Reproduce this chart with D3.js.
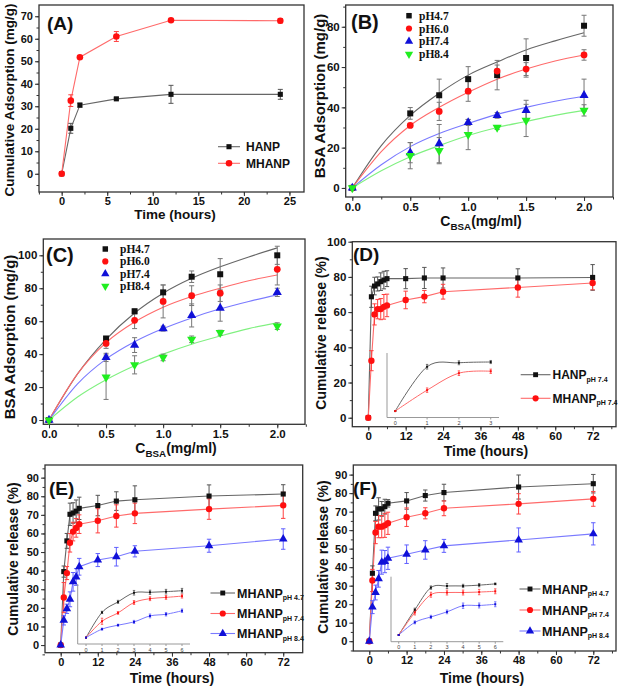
<!DOCTYPE html>
<html><head><meta charset="utf-8">
<script src="https://cdn.jsdelivr.net/npm/d3@7"></script>
<style>
body{margin:0;background:#fff}
svg text{font-family:"Liberation Sans",Arial,sans-serif;font-weight:bold;fill:#111}
svg text.serif{font-family:"Liberation Serif","Times New Roman",serif}
svg text.thin{font-weight:normal;fill:#444}
</style>
</head><body>
<svg id="c" width="620" height="688"></svg>
<script>
// ---------------- DATA ----------------
// Panel A
const timeA = [0, 1, 2, 6, 12, 24];
const hanpA = [0, 20.2, 30.5, 33.3, 35.3, 35.3];
const hanpAErr = [0, 2.2, 0.9, 0.5, 4, 2.2];
const mhanpA = [0, 32.5, 51.8, 61, 68.2, 68];
const mhanpAErr = [0, 2.6, 0.6, 2.2, 0.5, 1];
const legendA = ["HANP", "MHANP"];

// Panels B, C (adsorption isotherms)
const concBSA = [0, 0.5, 0.75, 1.0, 1.25, 1.5, 2.0];
const fitConc = [0, 0.25, 0.5, 0.75, 1.0, 1.25, 1.5, 1.75, 2.0];
const phLabels = ["pH4.7", "pH6.0", "pH7.4", "pH8.4"];

const b47 = [0, 37, 46, 54, 56, 64.5, 80.5];
const b47Err = [0, 2.9, 8, 6.2, 7.3, 9.5, 5.2];
const b60 = [0, 31, 38, 48, 58, 59, 66];
const b60Err = [0, 1, 4.5, 5, 3, 3.2, 2.6];
const b74 = [0, 17.5, 22, 32.5, 36, 38.5, 46];
const b74Err = [0, 5, 9.5, 1.5, 1.4, 5, 8];
const b84 = [0, 16, 18.5, 26.5, 30, 33.5, 38.5];
const b84Err = [0, 6.5, 6.5, 7.5, 1, 8, 2.8];
const b47Fit = [0, 21, 36, 47, 56, 62.5, 68.5, 73, 77];
const b60Fit = [0, 18, 31, 40, 47.5, 54, 59, 63, 66];
const b74Fit = [0, 11.5, 20.5, 27, 32, 36.5, 40, 43, 45.5];
const b84Fit = [0, 8.5, 15.5, 21, 26, 30, 33, 36, 38.5];

const c47 = [0, 49.5, 66, 77.5, 87, 88.5, 100];
const c47Err = [0, 1, 1.5, 4.5, 3.5, 9.5, 5.5];
const c60 = [0, 46.5, 60.5, 72, 75.5, 77, 91.5];
const c60Err = [0, 3, 5, 10, 6, 5, 9.5];
const c74 = [0, 38, 45.5, 55.5, 63.5, 68, 77.5];
const c74Err = [0, 2.5, 4.5, 1.5, 7, 8, 2.5];
const c84 = [0, 26, 33.5, 38, 49, 53, 57];
const c84Err = [0, 13.5, 5.5, 2, 2, 1.5, 2];
const c47Fit = [0, 28, 49, 65, 77, 86, 93, 99, 104.5];
const c60Fit = [0, 28, 47, 59.5, 68.5, 75, 80, 84.5, 88];
const c74Fit = [0, 22, 37, 47.5, 55.5, 62, 67.5, 72, 76];
const c84Fit = [0, 14, 24.5, 33, 40, 46, 51, 55.5, 59];

// Panels D, E, F (release)
const relTime = [0, 1, 2, 3, 4, 5, 6, 12, 18, 24, 48, 72];
const hanpD = [0, 68.7, 74.8, 76, 77.3, 78.2, 79, 79, 79.4, 79.4, 79.4, 79.7];
const hanpDErr = [0, 6, 5, 4, 5, 5, 4.5, 5.7, 6, 5.7, 5.2, 7.3];
const mhanpD = [0, 32.4, 58.7, 61.7, 61.7, 63, 63.8, 66.9, 68.8, 71.6, 74, 76.5];
const mhanpDErr = [0, 5.7, 6, 5.5, 6, 7, 6.4, 5, 3.5, 4.2, 5.5, 3.8];
const legendD = [["HANP", "pH 7.4"], ["MHANP", "pH 7.4"]];

const e47 = [0, 39.5, 56, 70.3, 71, 72, 73.5, 75, 77.4, 78.1, 80.1, 81.2];
const e47Err = [0, 3, 4, 6, 5.5, 6, 6, 5.5, 5, 7.5, 6, 5];
const e74 = [0, 25.6, 38.7, 55, 61, 63, 65, 66.8, 69.4, 70.8, 73.1, 75.1];
const e74Err = [0, 8, 3.5, 5, 5, 5, 5, 6.5, 6, 5.5, 5.5, 7];
const e84 = [0, 13.3, 19.5, 24.6, 34, 36.6, 42.1, 45.7, 47.5, 50.4, 53.4, 57];
const e84Err = [0, 2.5, 2.5, 4, 5, 4.5, 4.5, 3.5, 5, 3, 3.5, 5.5];

const f47 = [0, 36.7, 69.1, 71.5, 71.5, 72.7, 74.5, 75.8, 78.7, 80.3, 83.3, 85.1];
const f47Err = [0, 4, 4, 6, 4, 4, 2, 4.5, 3, 4.5, 6.5, 5];
const f74 = [0, 32.8, 58.7, 61.9, 61.9, 62.6, 63.7, 67, 69.1, 71.8, 74.2, 76.9];
const f74Err = [0, 6, 6, 6, 6, 6.5, 6, 5, 3, 4, 5.5, 4];
const f84 = [0, 18.4, 26.3, 33.7, 42.7, 43, 44.8, 47, 49.3, 51.5, 54.7, 58];
const f84Err = [0, 3.5, 4, 4.5, 6.5, 6, 6, 5, 5, 3.5, 6.5, 6];
const legendEF = [["MHANP", "pH 4.7"], ["MHANP", "pH 7.4"], ["MHANP", "pH 8.4"]];

const ticksA_x = [0, 5, 10, 15, 20, 25];
const ticksA_y = [0, 10, 20, 30, 40, 50, 60, 70];
const ticksConc = [0, 0.5, 1.0, 1.5, 2.0];
const ticksB_y = [0, 20, 40, 60, 80];
const ticksC_y = [0, 20, 40, 60, 80, 100];
const ticksTime = [0, 12, 24, 36, 48, 60, 72];
const ticksD_y = [0, 20, 40, 60, 80, 100];
const ticksEF_y = [0, 10, 20, 30, 40, 50, 60, 70, 80, 90];

// ---------------- STYLES ----------------
const COL = {
  k: {m: "#111", l: "#666", e: "#555"},
  r: {m: "#ff1010", l: "#ff6a6a", e: "#ff4040"},
  b: {m: "#1010d8", l: "#7a7aff", e: "#6060ff"},
  g: {m: "#20ee20", l: "#80f080", e: "#50d050"}
};
const svg = d3.select("#c");

function sym(type, size) {
  if (type === "down") return d3.symbol().type(d3.symbolTriangle).size(size)();
  const t = {sq: d3.symbolSquare, ci: d3.symbolCircle, up: d3.symbolTriangle, di: d3.symbolDiamond}[type];
  return d3.symbol().type(t).size(size)();
}
function marker(g, type, x, y, color, size) {
  g.append("path").attr("d", sym(type, size))
    .attr("transform", `translate(${x},${y})` + (type === "down" ? " rotate(180)" : ""))
    .attr("fill", color);
}

function panel(o) {
  const g = svg.append("g");
  const x = d3.scaleLinear().domain(o.xDom).range([o.L, o.R]);
  const y = d3.scaleLinear().domain(o.yDom).range([o.B, o.T]);
  const fs = o.tickFs || 11;
  g.append("g").attr("transform", `translate(0,${o.B})`)
    .call(d3.axisBottom(x).tickValues(o.xMinor).tickSize(2.5).tickFormat(""))
    .call(a => a.select(".domain").remove());
  g.append("g").attr("transform", `translate(${o.L},0)`)
    .call(d3.axisLeft(y).tickValues(o.yMinor).tickSize(2.5).tickFormat(""))
    .call(a => a.select(".domain").remove());
  const ax = g.append("g").attr("transform", `translate(0,${o.B})`)
    .call(d3.axisBottom(x).tickValues(o.xTicks).tickSize(4).tickPadding(1.5).tickFormat(o.xFmt || d3.format("d")));
  const ay = g.append("g").attr("transform", `translate(${o.L},0)`)
    .call(d3.axisLeft(y).tickValues(o.yTicks).tickSize(4).tickPadding(2).tickFormat(o.yFmt || d3.format("d")));
  [ax, ay].forEach(a => {
    a.select(".domain").remove();
    a.selectAll("text").style("font-size", fs + "px");
  });
  g.selectAll(".tick line").attr("stroke", "#333").attr("stroke-width", 1);
  g.append("rect").attr("x", o.L).attr("y", o.T).attr("width", o.R - o.L).attr("height", o.B - o.T)
    .attr("fill", "none").attr("stroke", "#333").attr("stroke-width", 1.3);
  g.append("text").attr("x", o.labX).attr("y", o.labY).style("font-size", (o.labFs || 19) + "px").text(o.label);
  return {g, x, y};
}

function errBars(g, x, y, xs, ys, es, color, cap, w) {
  xs.forEach((xv, i) => {
    if (!es[i]) return;
    const px = x(xv), y1 = y(ys[i] - es[i]), y2 = y(ys[i] + es[i]);
    g.append("line").attr("x1", px).attr("x2", px).attr("y1", y1).attr("y2", y2).attr("stroke", color).attr("stroke-width", w || 1);
    [y1, y2].forEach(yy => g.append("line").attr("x1", px - cap).attr("x2", px + cap).attr("y1", yy).attr("y2", yy).attr("stroke", color).attr("stroke-width", w || 1));
  });
}
function line(g, x, y, xs, ys, color, curve, w) {
  g.append("path").datum(xs.map((v, i) => [v, ys[i]]))
    .attr("d", d3.line().x(d => x(d[0])).y(d => y(d[1])).curve(curve || d3.curveLinear))
    .attr("fill", "none").attr("stroke", color).attr("stroke-width", w || 1.1);
}
function points(g, x, y, xs, ys, type, color, size) {
  xs.forEach((v, i) => marker(g, type, x(v), y(ys[i]), color, size));
}
function yLabel(cx, cy, txt, fs) {
  svg.append("text").attr("transform", `translate(${cx},${cy}) rotate(-90)`).attr("text-anchor", "middle").style("font-size", fs + "px").text(txt);
}
function xLabel(cx, by, txt, fs) {
  svg.append("text").attr("x", cx).attr("y", by).attr("text-anchor", "middle").style("font-size", fs + "px").text(txt);
}
function cbsaLabel(cx, by, fs) {
  const t = svg.append("text").attr("x", cx).attr("y", by).attr("text-anchor", "middle").style("font-size", fs + "px");
  t.append("tspan").text("C");
  t.append("tspan").style("font-size", (fs * 0.7) + "px").attr("dy", 4).text("BSA");
  t.append("tspan").attr("dy", -4).text("(mg/ml)");
}

// ---------------- PANEL A ----------------
{
  const p = panel({L: 39, R: 304, T: 5, B: 192, xDom: [-2.49, 26.6], yDom: [-8.1, 75],
    xTicks: ticksA_x, xMinor: d3.range(-2.5, 26, 2.5), yTicks: ticksA_y, yMinor: d3.range(-5, 75, 5),
    label: "(A)", labX: 47, labY: 30, labFs: 19, tickFs: 11});
  const {g, x, y} = p;
  line(g, x, y, timeA, hanpA, COL.k.l);
  line(g, x, y, timeA, mhanpA, COL.r.l);
  errBars(g, x, y, timeA, hanpA, hanpAErr, COL.k.e, 2.5);
  errBars(g, x, y, timeA, mhanpA, mhanpAErr, COL.r.e, 2.5);
  points(g, x, y, timeA, hanpA, "sq", COL.k.m, 26);
  points(g, x, y, timeA, mhanpA, "ci", COL.r.m, 34);
  [[COL.k, "sq"], [COL.r, "ci"]].forEach(([c, t], i) => {
    const yy = 146.7 + i * 16.6;
    g.append("line").attr("x1", 218).attr("x2", 240).attr("y1", yy).attr("y2", yy).attr("stroke", c.l).attr("stroke-width", 1.1);
    marker(g, t, 229, yy, c.m, t === "sq" ? 26 : 34);
    g.append("text").attr("x", 246).attr("y", yy + 4.5).style("font-size", "12px").text(legendA[i]);
  });
  yLabel(14, 100, "Cumulative Adsorption (mg/g)", 13.5);
  xLabel(175, 219, "Time (hours)", 13.5);
}

// ---------------- PANELS B, C ----------------
function isoPanel(o, sets, fits, leg) {
  const p = panel(o);
  const {g, x, y} = p;
  const cols = [COL.k, COL.r, COL.b, COL.g];
  const types = ["sq", o.redType || "ci", "up", "down"];
  fits.forEach((f, i) => line(g, x, y, fitConc, f, cols[i].l, d3.curveMonotoneX, 1.1));
  sets.forEach(([v, e]) => errBars(g, x, y, concBSA, v, e, "#777", 2.5, 1));
  sets.forEach(([v], i) => points(g, x, y, concBSA, v, types[i], cols[i].m, 36));
  phLabels.forEach((t, i) => {
    const yy = leg.y + i * leg.dy;
    marker(g, types[i], leg.mx, yy, cols[i].m, 30);
    g.append("text").attr("class", "serif").attr("x", leg.tx).attr("y", yy + 4).style("font-size", "11.5px").text(t);
  });
  return p;
}
isoPanel({L: 345.7, R: 613, T: 5, B: 197, xDom: [-0.057, 2.25], yDom: [-4.5, 90.8],
  xTicks: ticksConc, xMinor: d3.range(0, 2.3, 0.25), yTicks: ticksB_y, yMinor: d3.range(0, 91, 10),
  xFmt: d3.format(".1f"), label: "(B)", labX: 351, labY: 29, labFs: 20, tickFs: 11.5},
  [[b47, b47Err], [b60, b60Err], [b74, b74Err], [b84, b84Err]],
  [b47Fit, b60Fit, b74Fit, b84Fit], {mx: 409, tx: 419, y: 15.7, dy: 12.8});
yLabel(325, 96, "BSA Adsorption (mg/g)", 15);
cbsaLabel(481, 225.5, 14);

isoPanel({L: 43.3, R: 305, T: 239, B: 424.3, xDom: [-0.05, 2.243], yDom: [-2.6, 109.9],
  xTicks: ticksConc, xMinor: d3.range(0, 2.3, 0.25), yTicks: ticksC_y, yMinor: d3.range(0, 110, 10),
  xFmt: d3.format(".1f"), label: "(C)", labX: 46, labY: 262, labFs: 20, tickFs: 11.5, redType: "ci"},
  [[c47, c47Err], [c60, c60Err], [c74, c74Err], [c84, c84Err]],
  [c47Fit, c60Fit, c74Fit, c84Fit], {mx: 105.3, tx: 120, y: 249, dy: 12.4});
yLabel(15, 337, "BSA Adsorption (mg/g)", 15);
cbsaLabel(176, 452.5, 14);

// ---------------- RELEASE PANELS ----------------
function inset(g, o, series) {
  const x = d3.scaleLinear().domain(o.xDom).range([o.L, o.R]);
  const y = d3.scaleLinear().domain(o.yDom).range([o.B, o.T]);
  g.append("line").attr("x1", o.L).attr("x2", o.L).attr("y1", o.T).attr("y2", o.B).attr("stroke", "#999").attr("stroke-width", 1);
  g.append("line").attr("x1", o.L).attr("x2", o.R).attr("y1", o.B).attr("y2", o.B).attr("stroke", "#999").attr("stroke-width", 1);
  o.ticks.forEach(t => {
    g.append("line").attr("x1", x(t)).attr("x2", x(t)).attr("y1", o.B).attr("y2", o.B + 2).attr("stroke", "#999");
    g.append("text").attr("class", "thin").attr("x", x(t)).attr("y", o.B + 7.5).attr("text-anchor", "middle").style("font-size", "5.5px").text(t);
  });
  const n = relTime.filter(t => t <= o.xMax).length;
  const xs = relTime.slice(0, n);
  series.forEach(s => line(g, x, y, xs, s.v.slice(0, n), s.c.l, d3.curveCardinal, 1));
  series.forEach(s => errBars(g, x, y, xs, s.v.slice(0, n), s.e.slice(0, n).map(v => v * 0.6), s.c.e, 1.2, 0.8));
  series.forEach(s => points(g, x, y, xs, s.v.slice(0, n), "sq", s.c.m, 4));
}
function relPanel(o, series, legend, ins, leg) {
  const p = panel(o);
  const {g, x, y} = p;
  series.forEach(s => line(g, x, y, relTime, s.v, s.c.l));
  series.forEach(s => errBars(g, x, y, relTime, s.v, s.e, s.c.e, 2.2));
  series.forEach(s => points(g, x, y, relTime, s.v, s.t, s.c.m, s.t === "sq" ? 26 : 32));
  inset(g, ins, series);
  legend.forEach((lt, i) => {
    const yy = leg.y[i];
    const s = series[i];
    g.append("line").attr("x1", leg.x1).attr("x2", leg.x2).attr("y1", yy).attr("y2", yy).attr("stroke", s.c.l).attr("stroke-width", 1.1);
    marker(g, s.t, (leg.x1 + leg.x2) / 2, yy, s.c.m, s.t === "sq" ? 24 : 30);
    const t = g.append("text").attr("x", leg.tx).attr("y", yy + 4.5).style("font-size", leg.fs + "px");
    t.append("tspan").text(lt[0]);
    t.append("tspan").style("font-size", "7px").attr("dy", 2.5).text(lt[1]);
  });
  return p;
}

relPanel({L: 352.3, R: 616, T: 241.7, B: 426.7, xDom: [-5.13, 79.5], yDom: [-5.1, 100],
  xTicks: ticksTime, xMinor: d3.range(0, 79, 6), yTicks: ticksD_y, yMinor: d3.range(0, 101, 10),
  label: "(D)", labX: 353, labY: 261, labFs: 19, tickFs: 11.5},
  [{v: hanpD, e: hanpDErr, c: COL.k, t: "sq"}, {v: mhanpD, e: mhanpDErr, c: COL.r, t: "ci"}],
  legendD,
  {L: 387, R: 499, T: 353, B: 417.5, xDom: [-0.26, 3.26], yDom: [-10, 90], ticks: [0, 1, 2, 3], xMax: 3},
  {x1: 520.7, x2: 550.5, tx: 552.5, y: [374.7, 398.3], fs: 12});
yLabel(326, 333, "Cumulative release (%)", 14);
xLabel(486, 456, "Time (hours)", 14);

relPanel({L: 45, R: 302.7, T: 465, B: 652.7, xDom: [-5.08, 78.3], yDom: [-4.1, 96.8],
  xTicks: ticksTime, xMinor: d3.range(0, 78, 6), yTicks: ticksEF_y, yMinor: d3.range(-5, 96, 5),
  label: "(E)", labX: 49, labY: 495, labFs: 19, tickFs: 11},
  [{v: e47, e: e47Err, c: COL.k, t: "sq"}, {v: e74, e: e74Err, c: COL.r, t: "ci"}, {v: e84, e: e84Err, c: COL.b, t: "up"}],
  legendEF,
  {L: 77.7, R: 190, T: 584, B: 644, xDom: [-0.52, 6.5], yDom: [-10, 84], ticks: [0, 1, 2, 3, 4, 5, 6], xMax: 6},
  {x1: 210.5, x2: 235, tx: 237, y: [593, 613.5, 633.5], fs: 12.5});
yLabel(18, 559, "Cumulative release (%)", 14);
xLabel(172, 683, "Time (hours)", 14);

relPanel({L: 353.3, R: 616, T: 465, B: 651, xDom: [-5.14, 79.3], yDom: [-5.3, 95.2],
  xTicks: ticksTime, xMinor: d3.range(0, 79, 6), yTicks: ticksEF_y, yMinor: d3.range(-5, 95, 5),
  label: "(F)", labX: 353, labY: 495, labFs: 19, tickFs: 11},
  [{v: f47, e: f47Err, c: COL.k, t: "sq"}, {v: f74, e: f74Err, c: COL.r, t: "ci"}, {v: f84, e: f84Err, c: COL.b, t: "up"}],
  legendEF,
  {L: 391, R: 503.3, T: 576.7, B: 641.7, xDom: [-0.48, 6.5], yDom: [-9.8, 85], ticks: [0, 1, 2, 3, 4, 5, 6], xMax: 6},
  {x1: 519.5, x2: 540.5, tx: 542, y: [589, 610, 631], fs: 12.5});
yLabel(328, 557, "Cumulative release (%)", 14);
xLabel(482, 683, "Time (hours)", 14);
</script>
</body></html>
